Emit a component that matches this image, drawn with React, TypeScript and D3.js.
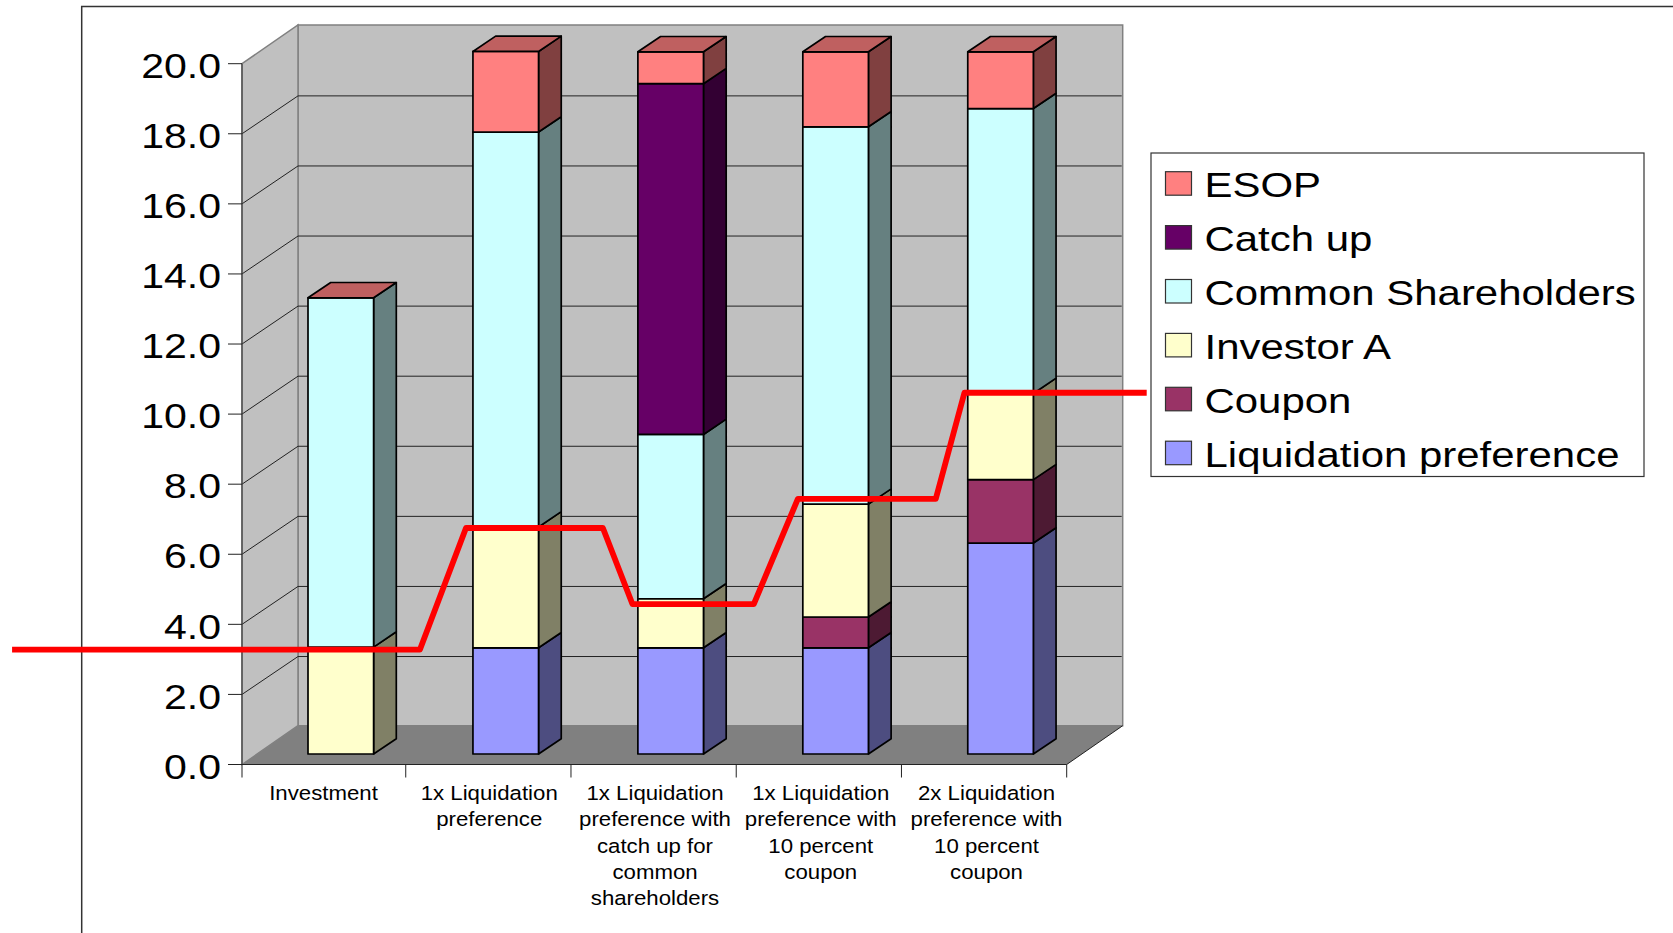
import React from "react";
import * as d3 from "d3";

// Chart values
const categories = [
  ["Investment"],
  ["1x Liquidation", "preference"],
  ["1x Liquidation", "preference with", "catch up for", "common", "shareholders"],
  ["1x Liquidation", "preference with", "10 percent", "coupon"],
  ["2x Liquidation", "preference with", "10 percent", "coupon"],
];
const liquidationPreference = [0, 3.03, 3.03, 3.03, 6.02];
const coupon = [0, 0, 0, 0.88, 1.81];
const investorA = [3.05, 3.45, 1.4, 3.22, 2.46];
const commonShareholders = [9.97, 11.27, 4.69, 10.77, 8.13];
const catchUp = [0, 0, 10.01, 0, 0];
const esop = [0, 2.3, 0.91, 2.14, 1.62];
const yTicks = [0, 2, 4, 6, 8, 10, 12, 14, 16, 18, 20];

// Payout threshold overlay: [position in category units, value]
const thresholdLine: [number, number][] = [
  [-1.394, 2.98], [1.079, 2.98], [1.358, 6.45], [2.188, 6.45], [2.367, 4.28],
  [3.103, 4.28], [3.37, 7.28], [4.206, 7.28], [4.38, 10.31], [5.485, 10.31],
];

const seriesNames = ["Liquidation preference", "Coupon", "Investor A", "Common Shareholders", "Catch up", "ESOP"];
const seriesValues = [liquidationPreference, coupon, investorA, commonShareholders, catchUp, esop];
const frontColors = ["#9999FF", "#993366", "#FFFFCC", "#CCFFFF", "#660066", "#FF8080"];
const sideColors = ["#4D4D80", "#4D1A33", "#808066", "#668080", "#330033", "#804040"];
const topColor = "#BF6060";

// Geometry of the pseudo-3D box
const left = 242, right = 1066.7, floorY = 764.5, topY = 63.7;
const wallDx = 56, wallDy = 38.8, gridDy = 37.9;
const barBase = 754, barOffset = 66, barWidth = 65.6, barDx = 22.7, barDy = 15.3;
const fontFamily = "'Liberation Sans', Arial, sans-serif";

const y = d3.scaleLinear().domain([0, 20]).range([floorY, topY]);
const barY = d3.scaleLinear().domain([0, 20]).range([barBase, barBase - (floorY - topY)]);
const band = d3.scaleBand<number>().domain(d3.range(categories.length)).range([left, right]);
const labelBand = d3.scaleBand<number>().domain(d3.range(categories.length)).range([240.6, 1069.4]);
const xUnits = d3.scaleLinear().domain([0, categories.length]).range([left, right]);
const tickX = d3.scaleLinear().domain([0, categories.length]).range([240.5, right]);

const rows = categories.map((_, i) => {
  const row: Record<string, number> = {};
  seriesNames.forEach((n, s) => (row[n] = seriesValues[s][i]));
  return row;
});
const stacked = d3.stack<Record<string, number>>().keys(seriesNames)(rows);

const poly = (pts: [number, number][]) => pts.map((p) => p.join(",")).join(" ");
const redPath = d3
  .line<[number, number]>()
  .x((d) => xUnits(d[0]))
  .y((d) => barY(d[1]))(thresholdLine)!;

export default function App() {
  return (
    <svg
      width={1673}
      height={933}
      viewBox="0 0 1673 933"
      style={{ position: "absolute", left: 0, top: 0, display: "block", background: "#fff" }}
      fontFamily={fontFamily}
    >
      {/* Outer frame */}
      <path d="M1673,6.5H81.7V933" fill="none" stroke="#333" strokeWidth={1.5} />

      {/* Walls and floor */}
      <polygon
        points={poly([[right + wallDx, floorY - wallDy], [left + wallDx, floorY - wallDy], [left + wallDx, topY - wallDy], [right + wallDx, topY - wallDy]])}
        fill="#C0C0C0"
        stroke="#808080"
        strokeWidth={1.5}
      />
      <polygon
        points={poly([[left, floorY], [left + wallDx, floorY - wallDy], [left + wallDx, topY - wallDy], [left, topY]])}
        fill="#C0C0C0"
        stroke="#808080"
        strokeWidth={1.5}
      />
      <polygon
        points={poly([[left, floorY], [left + wallDx, floorY - wallDy], [right + wallDx, floorY - wallDy], [right, floorY]])}
        fill="#808080"
      />
      <line x1={right} y1={floorY} x2={right + wallDx} y2={floorY - wallDy} stroke="#222" strokeWidth={1} />

      {/* Gridlines on the walls */}
      {yTicks.filter((t) => t > 0 && t < 20).map((t) => (
        <path
          key={t}
          d={`M${left},${y(t)}L${left + wallDx},${y(t) - gridDy}H${right + wallDx - 1}`}
          fill="none"
          stroke="#222"
          strokeWidth={1}
        />
      ))}

      {/* Value axis */}
      <line x1={left} y1={topY} x2={left} y2={floorY + 13} stroke="#444" strokeWidth={1.2} />
      {yTicks.map((t) => (
        <g key={t}>
          <line x1={left - 14} x2={left} y1={y(t)} y2={y(t)} stroke="#222" strokeWidth={1} />
          <text
            transform={`translate(221,${y(t) + 14.2}) scale(1.14,1)`}
            textAnchor="end"
            fontSize={36}
            fill="#000"
          >
            {t.toFixed(1)}
          </text>
        </g>
      ))}

      {/* Category axis */}
      <line x1={left - 14} x2={right} y1={floorY} y2={floorY} stroke="#222" strokeWidth={1.2} />
      {d3.range(1, categories.length + 1).map((i) => (
        <line key={i} x1={tickX(i)} x2={tickX(i)} y1={floorY} y2={floorY + 13} stroke="#222" strokeWidth={1} />
      ))}
      {categories.map((lines, i) =>
        lines.map((line, k) => (
          <text
            key={k}
            transform={`translate(${labelBand(i)! + labelBand.bandwidth() / 2},${800 + k * 26.3}) scale(1.095,1)`}
            textAnchor="middle"
            fontSize={20.3}
            fill="#000"
          >
            {line}
          </text>
        ))
      )}

      {/* Stacked columns, bottom segment first */}
      {categories.map((_, i) => {
        const x0 = band(i)! + barOffset;
        const x1 = x0 + barWidth;
        const total = d3.sum(seriesValues, (v) => v[i]);
        const top = barY(total);
        return (
          <g key={i} stroke="#000" strokeWidth={1.7} strokeLinejoin="round">
            {stacked.map((layer, s) => {
              const [a, b] = layer[i];
              if (b - a <= 0) return null;
              return (
                <g key={s}>
                  <polygon
                    points={poly([[x1, barY(a)], [x1 + barDx, barY(a) - barDy], [x1 + barDx, barY(b) - barDy], [x1, barY(b)]])}
                    fill={sideColors[s]}
                  />
                  <rect x={x0} y={barY(b)} width={barWidth} height={barY(a) - barY(b)} fill={frontColors[s]} />
                </g>
              );
            })}
            <polygon
              points={poly([[x0, top], [x0 + barDx, top - barDy], [x1 + barDx, top - barDy], [x1, top]])}
              fill={topColor}
            />
          </g>
        );
      })}

      {/* Threshold overlay */}
      <path d={redPath} fill="none" stroke="#FF0000" strokeWidth={5.8} strokeLinejoin="round" />

      {/* Legend */}
      <rect x={1151} y={153} width={493} height={323.5} fill="#fff" stroke="#333" strokeWidth={1.2} />
      {d3.reverse(seriesNames).map((name, k) => (
        <g key={name}>
          <rect
            x={1165.5}
            y={171.7 + k * 53.9}
            width={26}
            height={23.5}
            fill={frontColors[seriesNames.indexOf(name)]}
            stroke="#333"
            strokeWidth={1.2}
          />
          <text
            transform={`translate(1204.5,${197.3 + k * 53.9}) scale(1.165,1)`}
            fontSize={36}
            fill="#000"
          >
            {name}
          </text>
        </g>
      ))}
    </svg>
  );
}
